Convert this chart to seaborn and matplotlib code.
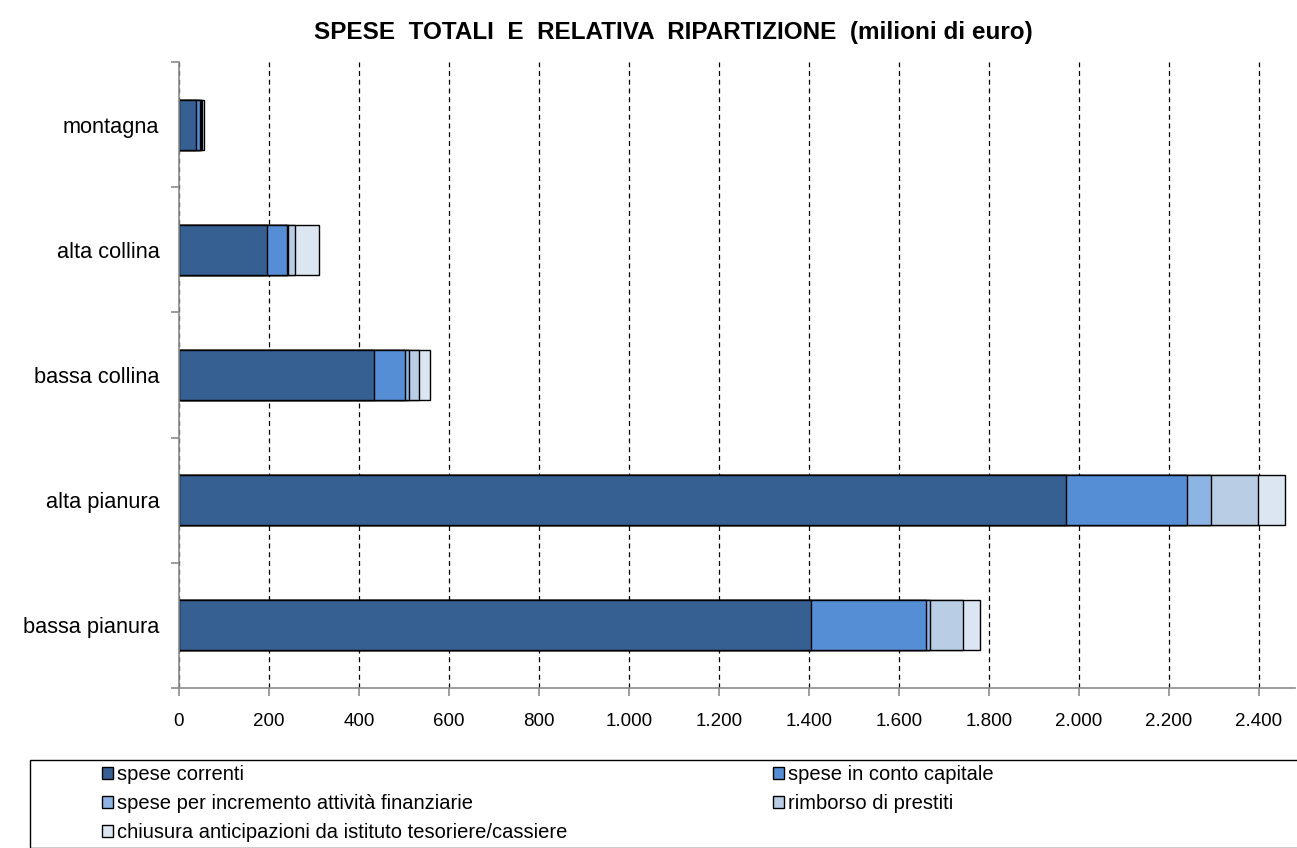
import numpy as np
import pandas as pd
import matplotlib
matplotlib.use("Agg")
import matplotlib.pyplot as plt
from matplotlib.patches import Rectangle, Patch
from matplotlib.ticker import FuncFormatter, FixedLocator
import seaborn as sns

categories = ["montagna", "alta collina", "bassa collina", "alta pianura", "bassa pianura"]
series = [
    "spese correnti",
    "spese in conto capitale",
    "spese per incremento attività finanziarie",
    "rimborso di prestiti",
    "chiusura anticipazioni da istituto tesoriere/cassiere",
]
spese_correnti = [38, 196, 433, 1971, 1404]
spese_capitale = [9, 45, 70, 269, 256]
spese_finanziarie = [1, 2, 7, 53, 9]
rimborso_prestiti = [3, 15, 24, 104, 73]
chiusura_anticipazioni = [4, 54, 24, 60, 38]
colors = ["#366092", "#558ED5", "#8DB4E2", "#B9CDE5", "#DCE6F2"]

sns.set_theme(style="white")
plt.rcParams["font.family"] = ["Liberation Sans", "DejaVu Sans"]
plt.rcParams["text.color"] = "black"

values = [spese_correnti, spese_capitale, spese_finanziarie, rimborso_prestiti, chiusura_anticipazioni]
df = pd.DataFrame(dict(zip(series, values)), index=categories)
cum = df.cumsum(axis=1)

fig = plt.figure(figsize=(12.97, 8.48), dpi=100)
ax = fig.add_axes([179 / 1297, 1 - 688 / 848, (1295 - 179) / 1297, (688 - 62) / 848])

# stacked bars: draw cumulative totals from the outermost segment inward
for s, c in reversed(list(zip(series, colors))):
    d = pd.DataFrame({"categoria": categories, "valore": cum[s].values})
    sns.barplot(data=d, x="valore", y="categoria", order=categories, color=c,
                width=0.4, edgecolor="black", linewidth=1.0, saturation=1, ax=ax)

ax.set_xlim(0, 2480)
ax.set_ylim(4.5, -0.5)
ax.set_xticks(np.arange(0, 2401, 200))
ax.xaxis.set_major_formatter(FuncFormatter(lambda v, p: f"{int(v):,}".replace(",", ".")))
ax.xaxis.grid(True, linestyle=(0, (4, 3)), color="black", linewidth=0.9)
ax.yaxis.grid(False)
ax.set_axisbelow(True)
ax.set_xlabel("")
ax.set_ylabel("")

for side in ["top", "right"]:
    ax.spines[side].set_visible(False)
for side in ["left", "bottom"]:
    ax.spines[side].set_color("#8c8c8c")
    ax.spines[side].set_linewidth(1.2)

ax.yaxis.set_minor_locator(FixedLocator(np.arange(-0.5, 5, 1)))
ax.tick_params(axis="y", which="major", length=0, pad=14, labelsize=15.7, labelcolor="black")
ax.tick_params(axis="y", which="minor", length=6, color="#8c8c8c", width=1.2, direction="out", left=True)
ax.tick_params(axis="x", which="major", length=6, color="#8c8c8c", width=1.2, direction="out",
               bottom=True, pad=12, labelsize=13.5, labelcolor="black")

fig.text(673 / 1297, 1 - 32 / 848, "SPESE  TOTALI  E  RELATIVA  RIPARTIZIONE  (milioni di euro)",
         ha="center", va="center", fontsize=17.5, fontweight="bold", color="black")

# legend box
fig.patches.append(Rectangle((30 / 1297, 0), 1.1, (848 - 760) / 848, transform=fig.transFigure,
                             facecolor="white", edgecolor="black", linewidth=1.0))
handles = [Patch(facecolor=c, edgecolor="black", linewidth=1.0, label=s) for s, c in zip(series, colors)]
order = [0, 2, 4, 1, 3]
fig.legend([handles[i] for i in order], [series[i] for i in order],
           loc="upper left", bbox_to_anchor=(102 / 1297, 1 - 765 / 848), ncol=2, frameon=False,
           fontsize=14.5, handlelength=0.55, handleheight=0.55, handletextpad=0.2,
           columnspacing=10.2, labelspacing=0.5, borderaxespad=0, borderpad=0)

fig.savefig("out.png", dpi=100)
